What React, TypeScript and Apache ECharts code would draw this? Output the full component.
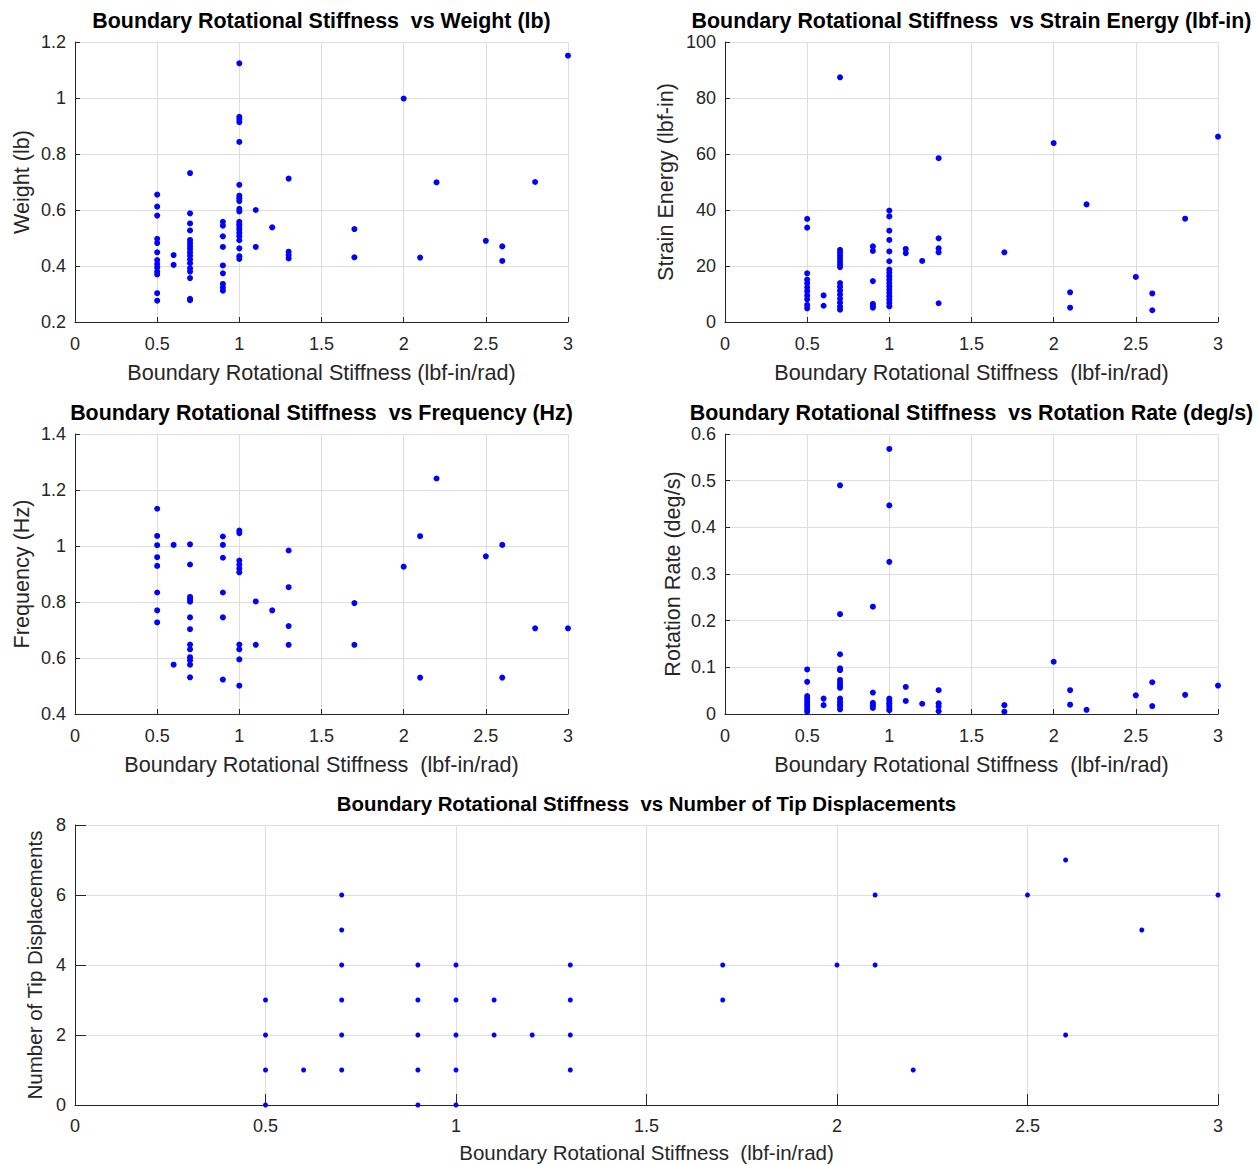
import React, { useEffect, useRef } from "react";
import * as echarts from "echarts";

// Each entry: [boundary rotational stiffness (lbf-in/rad), measured values at that stiffness]
const weightGroups: [number, number[]][] = [
  [0.5, [0.655, 0.612, 0.58, 0.497, 0.482, 0.449, 0.421, 0.407, 0.395, 0.38, 0.37, 0.303, 0.276]],
  [0.6, [0.439, 0.404]],
  [0.7, [0.732, 0.588, 0.552, 0.527, 0.493, 0.482, 0.471, 0.461, 0.449, 0.437, 0.424, 0.41, 0.392, 0.38, 0.357, 0.283, 0.278]],
  [0.9, [0.558, 0.544, 0.506, 0.468, 0.402, 0.374, 0.336, 0.323, 0.312]],
  [1.0, [1.124, 0.933, 0.924, 0.914, 0.843, 0.69, 0.651, 0.642, 0.632, 0.604, 0.595, 0.558, 0.549, 0.539, 0.53, 0.518, 0.506, 0.492, 0.463, 0.435, 0.425]],
  [1.1, [0.6, 0.468]],
  [1.2, [0.538]],
  [1.3, [0.712, 0.451, 0.439, 0.427]],
  [1.7, [0.532, 0.431]],
  [2.0, [0.998]],
  [2.1, [0.43]],
  [2.2, [0.699]],
  [2.5, [0.49]],
  [2.6, [0.47, 0.418]],
  [2.8, [0.7]],
  [3.0, [1.151]],
];

const strainEnergyGroups: [number, number[]][] = [
  [0.5, [36.8, 33.7, 17.4, 15.1, 13.8, 12.4, 11.0, 9.5, 8.1, 6.1, 4.9]],
  [0.6, [9.5, 5.8]],
  [0.7, [87.4, 25.8, 24.8, 23.7, 22.6, 21.5, 20.5, 19.6, 13.9, 12.6, 11.2, 9.8, 8.3, 6.9, 5.5, 4.4]],
  [0.9, [27.0, 25.4, 14.6, 6.5, 5.8, 5.1]],
  [1.0, [39.8, 37.7, 32.6, 29.3, 25.2, 21.7, 18.7, 17.5, 16.3, 15.1, 13.9, 12.7, 11.5, 10.4, 9.2, 8.0, 6.8, 5.6]],
  [1.1, [26.1, 24.6]],
  [1.2, [21.8]],
  [1.3, [58.5, 29.9, 26.3, 24.9, 6.7]],
  [1.7, [24.9]],
  [2.0, [63.9]],
  [2.1, [10.6, 5.1]],
  [2.2, [42.0]],
  [2.5, [16.1]],
  [2.6, [10.2, 4.2]],
  [2.8, [36.9]],
  [3.0, [66.2]],
];

const frequencyGroups: [number, number[]][] = [
  [0.5, [1.133, 1.036, 1.003, 0.96, 0.929, 0.834, 0.77, 0.727]],
  [0.6, [1.004, 0.576]],
  [0.7, [1.006, 0.934, 0.818, 0.81, 0.801, 0.745, 0.703, 0.648, 0.631, 0.603, 0.592, 0.576, 0.531]],
  [0.9, [1.034, 1.004, 0.958, 0.834, 0.745, 0.523]],
  [1.0, [1.055, 1.046, 0.948, 0.934, 0.92, 0.906, 0.648, 0.631, 0.595, 0.501]],
  [1.1, [0.802, 0.647]],
  [1.2, [0.77]],
  [1.3, [0.984, 0.853, 0.714, 0.647]],
  [1.7, [0.796, 0.647]],
  [2.0, [0.926]],
  [2.1, [1.035, 0.53]],
  [2.2, [1.241]],
  [2.5, [0.963]],
  [2.6, [1.004, 0.53]],
  [2.8, [0.706]],
  [3.0, [0.706]],
];

const rotationRateGroups: [number, number[]][] = [
  [0.5, [0.0955, 0.069, 0.0385, 0.033, 0.027, 0.021, 0.016, 0.01, 0.005]],
  [0.6, [0.033, 0.019]],
  [0.7, [0.49, 0.214, 0.128, 0.098, 0.094, 0.073, 0.067, 0.061, 0.056, 0.033, 0.027, 0.021, 0.016, 0.01]],
  [0.9, [0.23, 0.046, 0.024, 0.019, 0.013]],
  [1.0, [0.568, 0.447, 0.326, 0.033, 0.028, 0.023, 0.018, 0.013, 0.008]],
  [1.1, [0.058, 0.028]],
  [1.2, [0.022]],
  [1.3, [0.051, 0.023, 0.016, 0.006]],
  [1.7, [0.019, 0.005]],
  [2.0, [0.112]],
  [2.1, [0.051, 0.02]],
  [2.2, [0.009]],
  [2.5, [0.04]],
  [2.6, [0.068, 0.017]],
  [2.8, [0.041]],
  [3.0, [0.061]],
];

const tipDisplacementGroups: [number, number[]][] = [
  [0.5, [3, 2, 1, 0]],
  [0.6, [1]],
  [0.7, [6, 5, 4, 3, 2, 1]],
  [0.9, [4, 3, 2, 1, 0]],
  [1.0, [4, 3, 2, 1, 0]],
  [1.1, [3, 2]],
  [1.2, [2]],
  [1.3, [4, 3, 2, 1]],
  [1.7, [4, 3]],
  [2.0, [4]],
  [2.1, [6, 4]],
  [2.2, [1]],
  [2.5, [6]],
  [2.6, [7, 2]],
  [2.8, [5]],
  [3.0, [6]],
];

const FONT = '"Liberation Sans", Arial, Helvetica, sans-serif';
const INK = "#262626";
const GRID_LINE = "#dedede";
const DOT = "#0000ff";

type Panel = {
  title: string;
  xName: string;
  yName: string;
  groups: [number, number[]][];
  yMin: number;
  yMax: number;
  yStep: number;
  left: number;
  top: number;
  width: number;
  height: number;
  yNameGap: number;
  xNameGap: number;
  xLabelMargin: number;
  tick: number;
  dot: number;
  titleSize: number;
  nameSize: number;
};

const panels: Panel[] = [
  {
    title: "Boundary Rotational Stiffness  vs Weight (lb)",
    xName: "Boundary Rotational Stiffness (lbf-in/rad)",
    yName: "Weight (lb)",
    groups: weightGroups,
    yMin: 0.2, yMax: 1.2, yStep: 0.2,
    left: 75, top: 42, width: 493, height: 280,
    yNameGap: 43, xNameGap: 39, xLabelMargin: 13, tick: 5, dot: 6,
    titleSize: 21.4, nameSize: 21.6,
  },
  {
    title: "Boundary Rotational Stiffness  vs Strain Energy (lbf-in)",
    xName: "Boundary Rotational Stiffness  (lbf-in/rad)",
    yName: "Strain Energy (lbf-in)",
    groups: strainEnergyGroups,
    yMin: 0, yMax: 100, yStep: 20,
    left: 725, top: 42, width: 493, height: 280,
    yNameGap: 49, xNameGap: 39, xLabelMargin: 13, tick: 5, dot: 6,
    titleSize: 21.4, nameSize: 21.6,
  },
  {
    title: "Boundary Rotational Stiffness  vs Frequency (Hz)",
    xName: "Boundary Rotational Stiffness  (lbf-in/rad)",
    yName: "Frequency (Hz)",
    groups: frequencyGroups,
    yMin: 0.4, yMax: 1.4, yStep: 0.2,
    left: 75, top: 434, width: 493, height: 280,
    yNameGap: 43, xNameGap: 39, xLabelMargin: 13, tick: 5, dot: 6,
    titleSize: 21.4, nameSize: 21.6,
  },
  {
    title: "Boundary Rotational Stiffness  vs Rotation Rate (deg/s)",
    xName: "Boundary Rotational Stiffness  (lbf-in/rad)",
    yName: "Rotation Rate (deg/s)",
    groups: rotationRateGroups,
    yMin: 0, yMax: 0.6, yStep: 0.1,
    left: 725, top: 434, width: 493, height: 280,
    yNameGap: 42, xNameGap: 39, xLabelMargin: 13, tick: 5, dot: 6,
    titleSize: 21.4, nameSize: 21.6,
  },
  {
    title: "Boundary Rotational Stiffness  vs Number of Tip Displacements",
    xName: "Boundary Rotational Stiffness  (lbf-in/rad)",
    yName: "Number of Tip Displacements",
    groups: tipDisplacementGroups,
    yMin: 0, yMax: 8, yStep: 2,
    left: 75, top: 825, width: 1143, height: 280,
    yNameGap: 27, xNameGap: 37, xLabelMargin: 12, tick: 11, dot: 5,
    titleSize: 20.4, nameSize: 20.5,
  },
];

const STIFFNESS_MIN = 0;
const STIFFNESS_MAX = 3;
const STIFFNESS_STEP = 0.5;

const toPoints = (groups: [number, number[]][]) =>
  groups.flatMap(([k, values]) => values.map((v) => [k, v]));

function buildOption(): echarts.EChartsOption {
  const axisText = { color: INK, fontFamily: FONT, fontSize: 18 };

  return {
    animation: false,
    backgroundColor: "#ffffff",
    grid: panels.map((p) => ({
      left: p.left,
      top: p.top,
      width: p.width,
      height: p.height,
      containLabel: false,
    })),
    xAxis: panels.map((p, i) => ({
      type: "value",
      gridIndex: i,
      min: STIFFNESS_MIN,
      max: STIFFNESS_MAX,
      interval: STIFFNESS_STEP,
      name: p.xName,
      nameLocation: "middle",
      nameGap: p.xNameGap,
      nameTextStyle: { color: INK, fontFamily: FONT, fontSize: p.nameSize },
      axisLine: { show: true, onZero: false, lineStyle: { color: INK, width: 1 } },
      axisTick: { show: true, inside: true, length: p.tick, lineStyle: { color: INK } },
      axisLabel: { ...axisText, margin: p.xLabelMargin },
      splitLine: { show: true, lineStyle: { color: GRID_LINE, width: 1 } },
    })),
    yAxis: panels.map((p, i) => ({
      type: "value",
      gridIndex: i,
      min: p.yMin,
      max: p.yMax,
      interval: p.yStep,
      name: p.yName,
      nameLocation: "middle",
      nameGap: p.yNameGap,
      nameTextStyle: { color: INK, fontFamily: FONT, fontSize: p.nameSize },
      axisLine: { show: true, onZero: false, lineStyle: { color: INK, width: 1 } },
      axisTick: { show: true, inside: true, length: p.tick, lineStyle: { color: INK } },
      axisLabel: { ...axisText, margin: 9 },
      splitLine: { show: true, lineStyle: { color: GRID_LINE, width: 1 } },
    })),
    series: panels.map((p, i) => ({
      type: "scatter",
      xAxisIndex: i,
      yAxisIndex: i,
      data: toPoints(p.groups),
      symbol: "circle",
      symbolSize: p.dot,
      clip: false,
      itemStyle: { color: DOT, opacity: 1 },
      emphasis: { disabled: true },
    })),
    graphic: panels.map((p) => ({
      type: "text",
      x: p.left + p.width / 2,
      y: p.top - 21,
      style: {
        text: p.title,
        fontFamily: FONT,
        fontSize: p.titleSize,
        fontWeight: "bold",
        fill: "#000000",
        align: "center",
        verticalAlign: "middle",
      },
    })),
  } as echarts.EChartsOption;
}

export default function App() {
  const ref = useRef<HTMLDivElement>(null);

  useEffect(() => {
    if (!ref.current) return;
    const chart = echarts.init(ref.current, undefined, { renderer: "svg" });
    chart.setOption(buildOption());
    return () => chart.dispose();
  }, []);

  return (
    <div
      ref={ref}
      style={{
        position: "absolute",
        left: 0,
        top: 0,
        width: 1257,
        height: 1165,
        background: "#ffffff",
      }}
    />
  );
}
